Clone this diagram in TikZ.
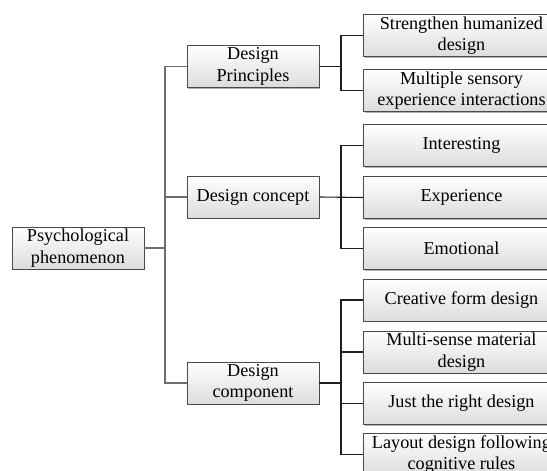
\documentclass[tikz,border=0pt]{standalone}
\usepackage{fontspec}
\setmainfont{Liberation Serif}
\usetikzlibrary{shadows}
\definecolor{boxedge}{HTML}{4A4A4A}
\definecolor{boxfill}{HTML}{DCDCDC}
\definecolor{trunkline}{HTML}{6E6E6E}
\definecolor{busline}{HTML}{1E1E1E}
\begin{document}
\begin{tikzpicture}[x=1pt,y=-1pt,
  box/.style={draw=boxedge, line width=0.9pt, top color=white, bottom color=boxfill,
    drop shadow={shadow xshift=1.2pt, shadow yshift=-1.2pt, opacity=0.3, fill=black},
    inner sep=0pt, minimum height=42pt, align=center,
    font=\fontsize{18.2}{21.5}\selectfont},
  midbox/.style={box, minimum width=132pt},
  leafbox/.style={box, anchor=west, minimum width=196pt},
  trunk/.style={draw=trunkline, line width=1.1pt},
  bus/.style={draw=busline, line width=1.1pt}]
\useasboundingbox (0,0) rectangle (547,471);
\clip (0,0) rectangle (547,471);

% root and second level
\node[midbox] (phen)  at (78,248)  {Psychological\\phenomenon};
\node[midbox] (dp)    at (253,66.5) {Design\\Principles};
\node[midbox] (dc)    at (253,197)  {Design concept};
\node[midbox] (dcomp) at (253,383)  {Design\\component};

% leaves
\node[leafbox] (s1) at (363,35.5)  {Strengthen humanized\\design};
\node[leafbox] (s2) at (363,90.5)  {Multiple sensory\\experience interactions};
\node[leafbox] (c1) at (363,145.5) {Interesting};
\node[leafbox] (c2) at (363,197.5) {Experience};
\node[leafbox] (c3) at (363,248.5) {Emotional};
\node[leafbox] (m1) at (363,300)   {Creative form design};
\node[leafbox] (m2) at (363,352)   {Multi-sense material\\design};
\node[leafbox] (m3) at (363,403.5) {Just the right design};
\node[leafbox] (m4) at (363,454.5) {Layout design following\\cognitive rules};

\coordinate (trunkx) at (165,0);
\coordinate (busx) at (341,0);

% trunk from the root
\draw[trunk] (phen.east) -- (phen.east -| trunkx);
\draw[trunk] (dp.west) -- (dp.west -| trunkx) -- (dcomp.west -| trunkx) -- (dcomp.west);
\draw[trunk] (dc.west) -- (dc.west -| trunkx);

% Design Principles branch
\draw[bus] (dp.east) -- (dp.east -| busx);
\draw[bus] (s1.west) -- (s1.west -| busx) -- (s2.west -| busx) -- (s2.west);

% Design concept branch
\draw[bus] (dc.east) -- (c2.west);
\draw[bus] (c1.west) -- (c1.west -| busx) -- (c3.west -| busx) -- (c3.west);

% Design component branch
\draw[bus] (dcomp.east) -- (dcomp.east -| busx);
\draw[bus] (m1.west) -- (m1.west -| busx) -- (m4.west -| busx) -- (m4.west);
\draw[bus] (m2.west) -- (m2.west -| busx);
\draw[bus] (m3.west) -- (m3.west -| busx);
\end{tikzpicture}
\end{document}
